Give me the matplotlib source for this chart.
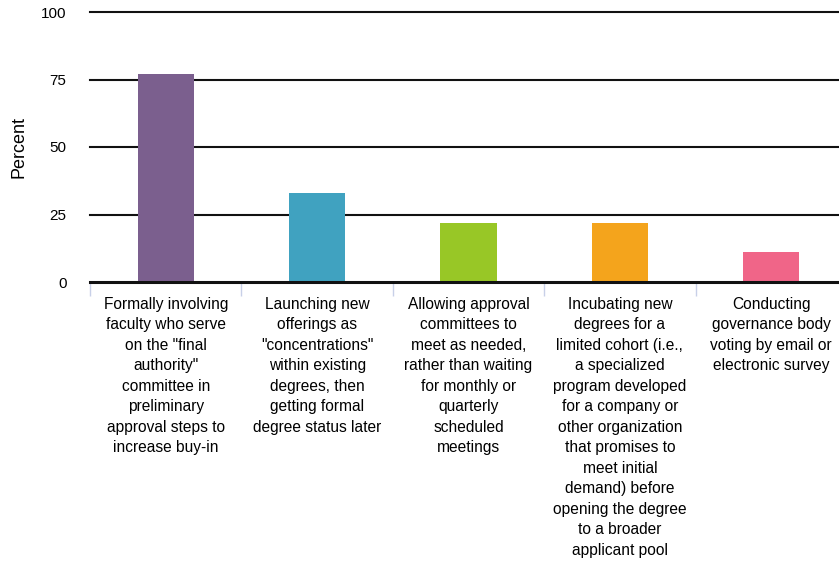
import matplotlib
matplotlib.use("Agg")
import matplotlib.pyplot as plt
import numpy as np

categories = [
    'Formally involving\nfaculty who serve\non the "final\nauthority"\ncommittee in\npreliminary\napproval steps to\nincrease buy-in',
    'Launching new\nofferings as\n"concentrations"\nwithin existing\ndegrees, then\ngetting formal\ndegree status later',
    'Allowing approval\ncommittees to\nmeet as needed,\nrather than waiting\nfor monthly or\nquarterly\nscheduled\nmeetings',
    'Incubating new\ndegrees for a\nlimited cohort (i.e.,\na specialized\nprogram developed\nfor a company or\nother organization\nthat promises to\nmeet initial\ndemand) before\nopening the degree\nto a broader\napplicant pool',
    'Conducting\ngovernance body\nvoting by email or\nelectronic survey',
]
values = [77, 33, 22, 22, 11]
colors = ["#7B5F8E", "#40A2C0", "#98C726", "#F4A41C", "#F06588"]
yticks = [0, 25, 50, 75, 100]

plt.rcParams['font.family'] = ['Liberation Sans', 'DejaVu Sans']

fig = plt.figure(figsize=(8.39, 5.63), dpi=100)
W, H = 839, 563
left, right = 90, 847
top, bottom = 12, 282
ax = fig.add_axes([left / W, 1 - bottom / H, (right - left) / W, (bottom - top) / H])

x = np.arange(len(values))
ax.bar(x, values, width=0.37, color=colors, zorder=3)

ax.set_xlim(-0.5, len(values) - 0.5)
ax.set_ylim(0, 100)
ax.set_yticks(yticks)
ax.set_yticklabels([str(v) for v in yticks], fontsize=11)
for v in yticks[1:]:
    ax.axhline(v, color="#111111", lw=1.5, zorder=1, clip_on=False)
ax.axhline(0, color="#111111", lw=2.2, zorder=4, clip_on=False)

for s in ax.spines.values():
    s.set_visible(False)

ax.tick_params(axis='y', length=0, pad=17)
ax.set_xticks(x)
ax.set_xticklabels(categories, fontsize=11.2, linespacing=1.46)
ax.tick_params(axis='x', which='major', length=0, pad=10.5)
ax.set_xticks(np.arange(len(values) + 1) - 0.5, minor=True)
ax.tick_params(axis='x', which='minor', length=10, width=1, color="#C8D0E8")

ax.set_ylabel("Percent", fontsize=13)
ax.yaxis.set_label_coords(-0.082, 0.5)

fig.savefig("out.png", dpi=100)
